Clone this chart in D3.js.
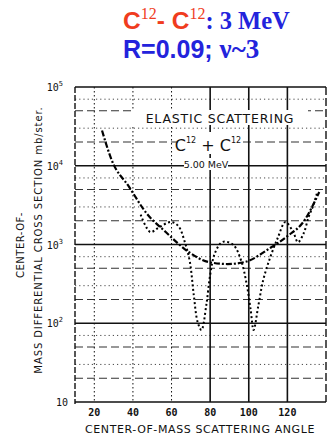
<!DOCTYPE html>
<html>
<head>
<meta charset="utf-8">
<script src="https://cdn.jsdelivr.net/npm/d3@7"></script>
<style>
  html, body { margin: 0; padding: 0; background: #fff; }
  svg { display: block; }
</style>
</head>
<body>
<div id="chart"></div>
<script>
// smooth optical-model style curve (angle in degrees, mb/ster)
const fitAngle = [24, 29, 38, 47, 57, 69, 79, 89, 98, 111, 120, 129, 134, 136.5];
const fitValue = [28000, 11800, 5400, 2500, 1440, 800, 600, 565, 600, 900, 1280, 2050, 3450, 4650];

// oscillating measured curve
const dataAngle = [44, 49, 53, 59.5, 63.5, 67, 69.5, 71.5, 73.5, 75.5, 78, 80, 82.5, 86.5, 92, 96, 99, 101, 102.5, 105, 107.5, 111, 115, 119, 123, 125.5, 128.5, 131, 133.5, 135.5];
const dataValue = [2400, 1440, 1620, 1930, 1720, 1050, 600, 230, 104, 82, 170, 410, 780, 1080, 985, 630, 305, 147, 82, 170, 355, 675, 1210, 1930, 1440, 1070, 1400, 2240, 3180, 4650];

const xTicks = [20, 40, 60, 80, 100, 120];
const yDecades = [10, 100, 1000, 10000, 100000];
const yExponents = ["", "2", "3", "4", "5"];
const minorSteps = [2, 3, 5, 7];

const width = 334, height = 439;
const svg = d3.select("#chart").append("svg")
    .attr("width", width)
    .attr("height", height);

const x = d3.scaleLinear().domain([10, 140]).range([75, 326]);
const y = d3.scaleLog().domain([10, 100000]).range([402, 87]);

// grid
const grid = svg.append("g");
const minors = [];
yDecades.slice(0, -1).forEach(d => {
    minorSteps.forEach(k => minors.push({ v: d * k, k: k }));
});
grid.selectAll(".minor")
    .data(minors)
    .join("line")
    .attr("x1", x(10)).attr("x2", x(140))
    .attr("y1", d => y(d.v)).attr("y2", d => y(d.v))
    .attr("stroke", "#333")
    .attr("stroke-width", d => (d.k === 2 || d.k === 5) ? 1.1 : 0.9)
    .attr("stroke-dasharray", d => (d.k === 2 || d.k === 5) ? "8,4" : "1.2,3");

grid.selectAll(".major")
    .data(yDecades)
    .join("line")
    .attr("x1", x(10)).attr("x2", x(140))
    .attr("y1", d => y(d)).attr("y2", d => y(d))
    .attr("stroke", "#111")
    .attr("stroke-width", 1.6);

grid.selectAll(".vert")
    .data(xTicks)
    .join("line")
    .attr("x1", d => x(d)).attr("x2", d => x(d))
    .attr("y1", y(100000)).attr("y2", y(10))
    .attr("stroke", "#111")
    .attr("stroke-width", d => d >= 80 ? 1.6 : 1)
    .attr("stroke-dasharray", d => d >= 80 ? null : "1.5,2.5");

// frame
svg.append("line")
    .attr("x1", x(10)).attr("x2", x(10))
    .attr("y1", y(100000)).attr("y2", y(10) + 2)
    .attr("stroke", "#111").attr("stroke-width", 1.4)
    .attr("stroke-dasharray", "6,2");
svg.append("line")
    .attr("x1", x(140)).attr("x2", x(140))
    .attr("y1", y(100000)).attr("y2", y(10))
    .attr("stroke", "#111").attr("stroke-width", 1.4)
    .attr("stroke-dasharray", "8,3");

// label block inside the plot
const lab = svg.append("g")
    .attr("font-family", "'DejaVu Sans', sans-serif")
    .attr("fill", "#111");
lab.append("rect").attr("x", 132).attr("y", 110).attr("width", 176).attr("height", 15).attr("fill", "#fff");
lab.append("rect").attr("x", 178).attr("y", 132).attr("width", 62).attr("height", 22).attr("fill", "#fff");
lab.append("rect").attr("x", 184).attr("y", 158).attr("width", 44).attr("height", 12).attr("fill", "#fff");
lab.append("text")
    .attr("x", 220).attr("y", 123)
    .attr("text-anchor", "middle")
    .attr("font-size", 12.5)
    .attr("letter-spacing", 0.8)
    .text("ELASTIC SCATTERING");
const cc = lab.append("text")
    .attr("x", 208).attr("y", 151)
    .attr("text-anchor", "middle")
    .attr("font-size", 16);
cc.append("tspan").text("C");
cc.append("tspan").attr("font-size", 8).attr("dy", -8).text("12");
cc.append("tspan").attr("dy", 8).text(" + C");
cc.append("tspan").attr("font-size", 8).attr("dy", -8).text("12");
lab.append("text")
    .attr("x", 206).attr("y", 168)
    .attr("text-anchor", "middle")
    .attr("font-size", 9.5)
    .text("5.00  MeV");

// curves
const line = d3.line()
    .x(d => x(d[0]))
    .y(d => y(d[1]))
    .curve(d3.curveMonotoneX);

svg.append("path")
    .datum(fitAngle.map((a, i) => [a, fitValue[i]]))
    .attr("d", line)
    .attr("fill", "none")
    .attr("stroke", "#000")
    .attr("stroke-width", 2.2)
    .attr("stroke-dasharray", "6,2,2,2");

svg.append("path")
    .datum(dataAngle.map((a, i) => [a, dataValue[i]]))
    .attr("d", line.curve(d3.curveCatmullRom))
    .attr("fill", "none")
    .attr("stroke", "#000")
    .attr("stroke-width", 2)
    .attr("stroke-dasharray", "2,2.5");

// axes labels
const ax = svg.append("g")
    .attr("font-family", "'DejaVu Sans Mono', monospace")
    .attr("fill", "#111");

ax.selectAll(".xt")
    .data(xTicks)
    .join("text")
    .attr("x", d => x(d))
    .attr("y", 416)
    .attr("text-anchor", "middle")
    .attr("font-size", 10)
    .attr("font-weight", "bold")
    .text(d => d);

const yt = ax.selectAll(".yt")
    .data(yDecades)
    .join("text")
    .attr("x", (d, i) => i === 0 ? 68 : 63)
    .attr("y", d => y(d) + 4)
    .attr("text-anchor", "end")
    .attr("font-size", 10);
yt.append("tspan").text("10");
yt.append("tspan")
    .attr("dy", -5)
    .attr("font-size", 7)
    .text((d, i) => yExponents[i]);

ax.append("text")
    .attr("x", 200).attr("y", 433)
    .attr("text-anchor", "middle")
    .attr("font-family", "'DejaVu Sans', sans-serif")
    .attr("font-size", 11)
    .attr("letter-spacing", 0.6)
    .text("CENTER-OF-MASS SCATTERING ANGLE");

ax.append("text")
    .attr("transform", "translate(24,245) rotate(-90)")
    .attr("text-anchor", "middle")
    .attr("font-family", "'DejaVu Sans', sans-serif")
    .attr("font-size", 10)
    .attr("letter-spacing", 0.5)
    .text("CENTER-OF-");
ax.append("text")
    .attr("transform", "translate(42,240) rotate(-90)")
    .attr("text-anchor", "middle")
    .attr("font-family", "'DejaVu Sans', sans-serif")
    .attr("font-size", 10)
    .attr("letter-spacing", 0.9)
    .text("MASS DIFFERENTIAL CROSS SECTION mb/ster.");

// title
const red = "#f03c1e", blue = "#2323dc";
const t1 = svg.append("text")
    .attr("x", 123).attr("y", 29)
    .attr("font-size", 24.5)
    .attr("font-weight", "bold");
t1.append("tspan").attr("fill", red).attr("font-family", "'Liberation Sans', Arial, sans-serif").text("C");
t1.append("tspan").attr("fill", red).attr("font-family", "'Liberation Serif', serif").attr("font-size", 16).attr("font-weight", "normal").attr("dy", -10).text("12");
t1.append("tspan").attr("fill", red).attr("font-family", "'Liberation Sans', Arial, sans-serif").attr("dy", 10).text("- C");
t1.append("tspan").attr("fill", red).attr("font-family", "'Liberation Serif', serif").attr("font-size", 16).attr("font-weight", "normal").attr("dy", -10).text("12");
t1.append("tspan").attr("fill", blue).attr("font-family", "'Liberation Serif', serif").attr("dy", 10).text(": 3 MeV");

const t2 = svg.append("text")
    .attr("x", 123).attr("y", 58)
    .attr("font-size", 25)
    .attr("font-weight", "bold")
    .attr("fill", blue);
t2.append("tspan").attr("font-family", "'Liberation Sans', Arial, sans-serif").text("R=0.09; ");
t2.append("tspan").attr("font-family", "'Liberation Serif', serif").attr("font-size", 27).text("ν~3");
</script>
</body>
</html>
